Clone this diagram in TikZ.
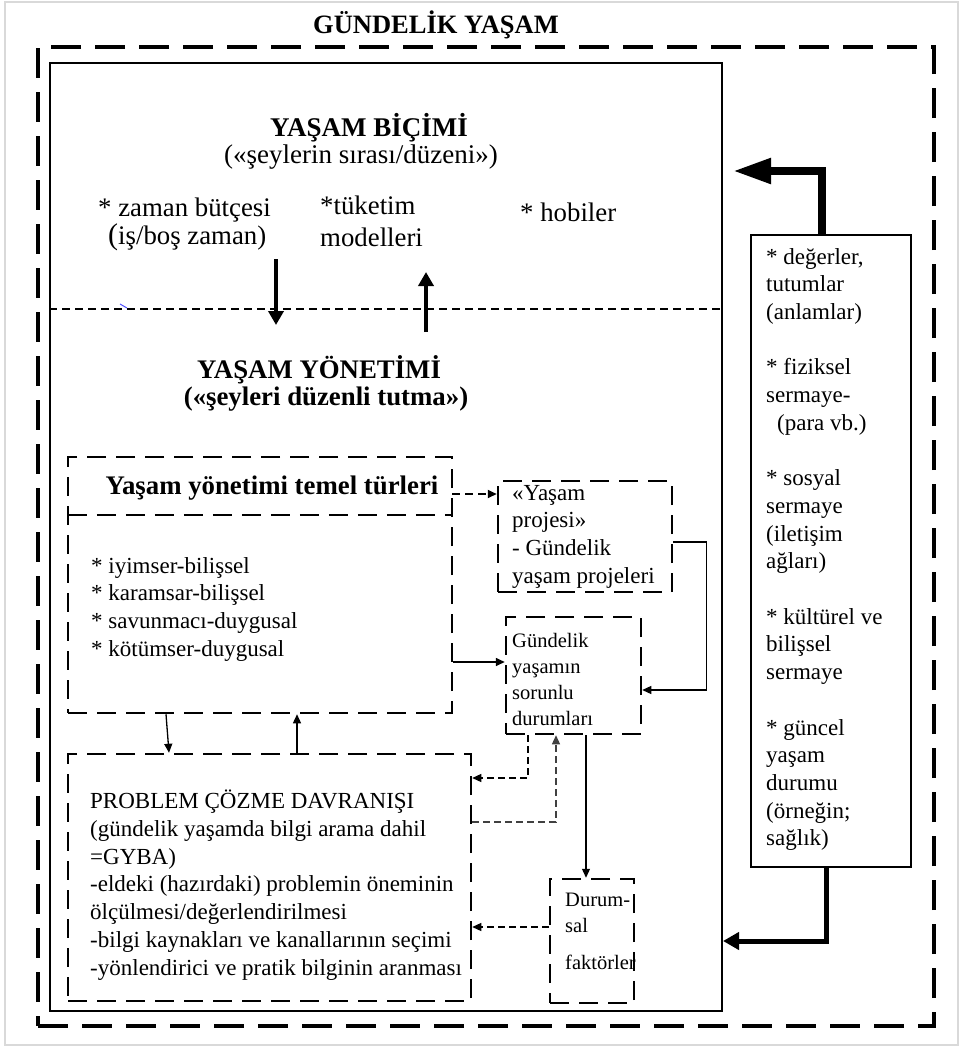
\documentclass[tikz,border=0pt]{standalone}
\usepackage{fontspec}
\setmainfont{Liberation Serif}
\usetikzlibrary{arrows.meta,calc}
\newcommand\szbody{\fontsize{23}{27.7}\selectfont}
\newcommand\szsmall{\fontsize{20.5}{26}\selectfont}
\newcommand\szbig{\fontsize{26.8}{30}\selectfont}
\begin{document}
\begin{tikzpicture}[x=1pt,y=-1pt,
  outerbox/.style={draw, line width=4pt, dash pattern=on 30pt off 14pt, inner sep=0pt},
  innerbox/.style={draw, line width=2pt, inner sep=0pt},
  dbox/.style={draw, line width=2.5pt, dash pattern=on 19pt off 10pt, inner sep=0pt},
  sbox/.style={draw, line width=1.2pt, inner sep=0pt},
  txt/.style={inner sep=0pt, align=left, anchor=north west, font=\szbody},
  stxt/.style={inner sep=0pt, align=left, anchor=north west, font=\szsmall},
  thinarr/.style={line width=1.3pt, -{Triangle[length=9pt,width=8pt]}},
  dasharr/.style={thinarr, dash pattern=on 7pt off 4pt},
  midarr/.style={line width=4pt, -{Triangle[length=14pt,width=15pt]}},
  bigarr/.style={line width=8pt, line join=miter, -{Triangle[length=38pt,width=24pt]}},
  botarr/.style={line width=5pt, line join=miter, -{Triangle[length=16pt,width=17pt]}}
]
\useasboundingbox (0,0) rectangle (962,1047);
\draw[gray!30, line width=1.5pt] (5,2) rectangle (958,1045);

% frames
\node[outerbox, minimum width=896pt, minimum height=979pt] (outer) at (486,536.5) {};
\node[innerbox, minimum width=672pt, minimum height=948pt] (inner) at (386,537) {};
\node[font=\bfseries\fontsize{26.5}{30}\selectfont] (title) at (436,25) {GÜNDELİK YAŞAM};

% upper part
\node[font=\bfseries\fontsize{27}{30}\selectfont] (yb) at (369,128) {YAŞAM BİÇİMİ};
\node[font=\fontsize{27}{30}\selectfont] (ybs) at (361,157) {(«şeylerin sırası/düzeni»)};
\node[inner sep=0pt, align=left, anchor=north west, font=\fontsize{26.8}{25}\selectfont] (zt) at (98,198)
  {* zaman bütçesi\\\hspace*{10pt}{\fontsize{30}{25}\selectfont(}iş/boş zaman)};
\node[inner sep=0pt, align=left, anchor=north west, font=\fontsize{26.8}{32}\selectfont] (tm) at (320,196)
  {*tüketim\\modelleri};
\node[inner sep=0pt, anchor=west, font=\szbig] (hb) at (520,212) {* hobiler};
\draw[blue!70, line width=1pt] (120,304) -- (127,308);

\draw[line width=2pt, dash pattern=on 8pt off 5pt] (inner.west |- 0,309) -- (inner.east |- 0,309);
\coordinate (d1) at (276,259);
\coordinate (d2) at (276,325);
\coordinate (u1) at (426,332);
\coordinate (u2) at (426,272);
\draw[midarr] (d1) -- (d2);
\draw[midarr] (u1) -- (u2);

% lower part
\node[font=\bfseries\szbig, inner sep=0pt, anchor=base] (ym) at (319,378) {YAŞAM YÖNETİMİ};
\node[font=\bfseries\szbig, inner sep=0pt, anchor=base] (yms) at (326,405) {(«şeyleri düzenli tutma»)};

\node[dbox, minimum width=384pt, minimum height=256pt] (lst) at (260,585) {};
\node[inner sep=0pt, minimum width=384pt, minimum height=58pt] (hdr) at (260,486) {};
\draw[line width=2.5pt, dash pattern=on 19pt off 10pt] (hdr.south west) -- (hdr.south east);
\node[font=\bfseries\szbig] (hdrt) at (272,488) {Yaşam yönetimi temel türleri};
\node[txt] (lstt) at (91,557) {* iyimser-bilişsel\\* karamsar-bilişsel\\* savunmacı-duygusal\\* kötümser-duygusal};

\node[dbox, minimum width=174pt, minimum height=111pt] (yp) at (585,536.5) {};
\node[txt] (ypt) at (512,485) {«Yaşam\\projesi»\\- Gündelik\\yaşam projeleri};

\node[dbox, minimum width=135pt, minimum height=117pt] (sd) at (573.5,675.5) {};
\node[stxt] (sdt) at (512,633) {Gündelik\\yaşamın\\sorunlu\\durumları};

\node[dbox, minimum width=84pt, minimum height=124pt] (df) at (592,941) {};
\node[stxt] (dft) at (565,893) {Durum-\\sal\\[11pt]faktörler};

\node[dbox, minimum width=403pt, minimum height=247pt] (pc) at (269.5,877.5) {};
\node[txt] (pct) at (90,790) {PROBLEM ÇÖZME DAVRANIŞI\\(gündelik yaşamda bilgi arama dahil\\=GYBA)\\-eldeki (hazırdaki) problemin öneminin\\ölçülmesi/değerlendirilmesi\\-bilgi kaynakları ve kanallarının seçimi\\-yönlendirici ve pratik bilginin aranması};

% right box
\node[sbox, minimum width=160pt, minimum height=632pt] (rb) at (831,551) {};
\node[txt] (rbt) at (766,248) {* değerler,\\tutumlar\\(anlamlar)\\[27.7pt]* fiziksel\\sermaye-\\\hspace*{11pt}(para vb.)\\[27.7pt]* sosyal\\sermaye\\(iletişim\\ağları)\\[27.7pt]* kültürel ve\\bilişsel\\sermaye\\[27.7pt]* güncel\\yaşam\\durumu\\(örneğin;\\sağlık)};

% connectors
\draw[dasharr, line width=2pt, dash pattern=on 8pt off 5pt] (hdr.east |- 0,494) -- (yp.west |- 0,494);
\draw[thinarr, line width=1.6pt] (lst.east |- 0,662) -- (sd.west |- 0,662);
\draw[thinarr, line width=1.2pt] (yp.east |- 0,542) -- ++(33,0) |- (sd.east |- 0,690);
\draw[thinarr] (lst.south -| 166,0) -- (pc.north -| 169,0);
\draw[thinarr] (pc.north -| 297,0) -- (lst.south -| 297,0);
\draw[dasharr, line width=1.2pt] (sd.south -| 528,0) |- (pc.east |- 0,778);
\draw[dasharr, line width=1.2pt, black!75] (pc.east |- 0,822) -| (sd.south -| 556,0);
\draw[thinarr, line width=1.2pt] (sd.south -| 586,0) -- (df.north -| 586,0);
\draw[dasharr, line width=1.2pt] (df.west |- 0,927) -- (pc.east |- 0,927);

\coordinate (tipA) at ($(inner.east |- 0,171)+(10,0)$);
\draw[bigarr] (rb.north -| 822,0) |- (tipA);
\draw[botarr] (rb.south -| 826,0) |- (inner.east |- 0,941);
\end{tikzpicture}
\end{document}
